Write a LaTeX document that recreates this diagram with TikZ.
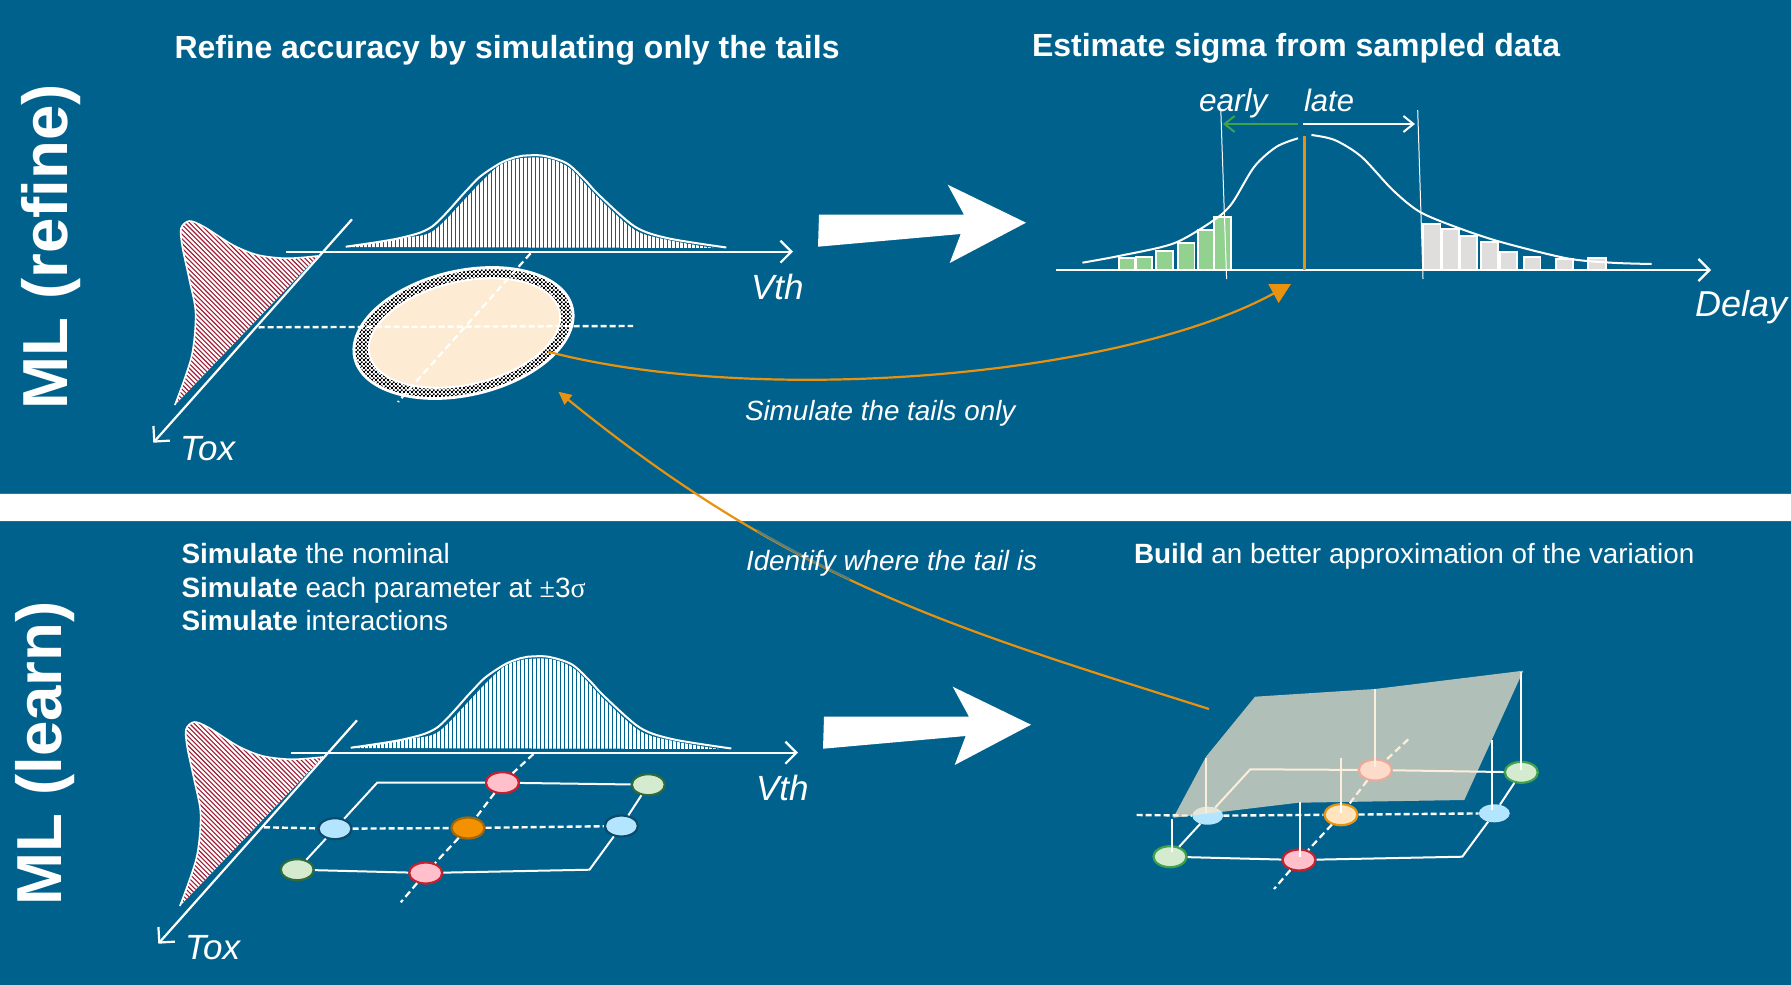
\documentclass[tikz,border=0pt]{standalone}
\usepackage{fontspec}
\setmainfont{Liberation Sans}
\newfontfamily\symf{Liberation Serif}
\usetikzlibrary{arrows.meta,shapes.geometric,patterns}
\pgfdeclarepatternformonly{ringdots}{\pgfqpoint{0pt}{0pt}}{\pgfqpoint{4.4pt}{4.4pt}}{\pgfqpoint{4.4pt}{4.4pt}}{%
  \pgfpathrectangle{\pgfqpoint{0pt}{0pt}}{\pgfqpoint{2pt}{2pt}}%
  \pgfpathrectangle{\pgfqpoint{2.2pt}{2.2pt}}{\pgfqpoint{2pt}{2pt}}%
  \pgfusepath{fill}}
\definecolor{bgblue}{HTML}{00628C}
\definecolor{orng}{HTML}{E8920F}
\definecolor{dimorng}{HTML}{5F7F74}
\definecolor{hatchred}{HTML}{A01C34}
\definecolor{cream}{HTML}{FDEBD3}
\definecolor{surf}{RGB}{251,231,203}
\definecolor{barg}{HTML}{93D191}
\definecolor{bargrey}{HTML}{E0DEDC}
\definecolor{gfill}{HTML}{D5EBD0}
\definecolor{bfill}{HTML}{B3E5FF}
\definecolor{pfill}{HTML}{FFC0CB}
\definecolor{ofill}{HTML}{F49100}
\definecolor{lofill}{HTML}{FFE4BE}
\definecolor{gbright}{HTML}{3FA14A}
\definecolor{gdark}{HTML}{2F6B3A}
\definecolor{bdark}{HTML}{0B4A68}
\definecolor{rdark}{HTML}{C4202E}
\definecolor{bandgreen}{HTML}{1E8A5A}
\definecolor{bandred}{HTML}{C0303A}
\newcommand{\fs}[1]{\fontsize{#1}{#1}\selectfont}
\tikzset{
  txt/.style={inner sep=0pt,outer sep=0pt,anchor=base west,text=white},
  axisline/.style={draw=white,line width=2.2pt,-{Straight Barb[length=11pt,width=22pt,line width=2.2pt]}},
  thinline/.style={draw=white,line width=1pt},
  gridline/.style={draw=white,line width=2pt},
  dashline/.style={draw=white,line width=2.4pt,dash pattern=on 6pt off 3pt},
  dashdiag/.style={draw=white,line width=2.2pt,dash pattern=on 7pt off 4pt},
  pt/.style={ellipse,inner sep=0pt,minimum width=33pt,minimum height=21pt,line width=2.2pt},
  ptbare/.style={ellipse,inner sep=0pt,minimum width=31pt,minimum height=18pt,fill=bfill,draw=none},
  ptg/.style={pt,fill=gfill,draw=#1},
  ptb/.style={pt,fill=bfill,draw=#1},
  ptp/.style={pt,fill=pfill,draw=#1},
  bigarrow/.style={fill=white,draw=none},
  orngline/.style={draw=orng,line width=2.2pt},
  vline/.style={draw=white,line width=2.2pt},
}
\newcommand{\bellgroup}[2]{%
  \begin{scope}
    \clip plot[smooth] coordinates {(345.7,247) (398.8,238.3) (432,231.7) (465,199) (480,183) (500,165) (520,158.3) (546.7,158.3) (570,168.3) (599,198.3) (635,230) (668,240) (714,248)} -- cycle;
    \foreach \x in {345.5,349.5,...,730} \draw[white,line width=3pt] (\x,150) -- (\x,248.5);
  \end{scope}
  \draw[white,line width=2pt] plot[smooth] coordinates {(345.7,246.7) (398.8,238.3) (431.9,226.7) (465.1,192) (480,176.7) (500,163.3) (515,157.3) (523,155.7) (543,155.7) (566.7,163.3) (585,180) (599,195) (635,226.7) (668.2,238.3) (726.3,247.5)};
  \begin{scope}
    \clip plot[smooth] coordinates {(174.9,405) (191.5,356.7) (195.6,313.3) (189.4,280) (182.3,246.7) (181,228.3) (189.4,221) (203.9,226.7) (232.9,245) (257.8,255) (286.8,258.3) (317.9,256)} -- cycle;
    \fill[white] (150,200) rectangle (340,420);
    \foreach \x in {-120,-115.3,...,340} \draw[hatchred,line width=1.1pt] (\x,200) -- +(230,230);
  \end{scope}
  \draw[white,line width=1.6pt] plot[smooth] coordinates {(174.9,405) (191.5,356.7) (195.6,313.3) (189.4,280) (182.3,246.7) (181,228.3) (189.4,221) (203.9,226.7) (232.9,245) (257.8,255) (286.8,258.3) (317.9,256)};
  \coordinate (#1vthS) at (286,251.7);
  \coordinate (#1vthE) at (793,251.7);
  \coordinate (#1toxS) at (352,219.3);
  \coordinate (#1toxE) at (153.3,442.7);
  \draw[axisline] (#1vthS) -- (#1vthE);
  \draw[axisline] (#1toxS) -- (#1toxE);
  \node[txt] (#1vth) at (751,299) {\fs{35}\itshape Vth};
  \node[txt,yshift=#2] (#1tox) at (180,460) {\fs{35}\itshape Tox};
}
\begin{document}
\begin{tikzpicture}[x=1pt,y=-1pt]
\useasboundingbox (0,0) rectangle (1791,985);
\fill[bgblue] (0,0) rectangle (1791,985);
\fill[white] (0,493.5) rectangle (1791,521);
\draw[draw=bandgreen,line width=1pt] (0,493.5) -- (1791,493.5);
\draw[draw=bandred,line width=1pt] (0,521) -- (1791,521);
\node[txt,rotate=90] (mlr) at (67.5,409) {\fs{63.6}\bfseries ML (refine)};
\node[txt,rotate=90] (mll) at (61,905.3) {\fs{63.6}\bfseries ML (learn)};
\node[txt] (t1) at (174.5,58) {\fs{32}\bfseries Refine accuracy by simulating only the tails};
\node[txt] (t2) at (1032,56.5) {\fs{32}\bfseries Estimate sigma from sampled data};
\bellgroup{u}{0pt}
\node[ellipse,rotate=13,minimum width=226pt,minimum height=127pt,inner sep=0pt,fill=white] (ringw) at (463.5,333) {};
\node[ellipse,rotate=13,minimum width=220pt,minimum height=121pt,inner sep=0pt,pattern=ringdots,pattern color=black] (ring) at (463.5,333) {};
\node[ellipse,rotate=13,minimum width=195pt,minimum height=103pt,inner sep=0pt,fill=cream,draw=white,line width=2pt] (core) at (464.5,333) {};
\coordinate (uhS) at (258.6,327.3);
\coordinate (uhE) at (633,326);
\coordinate (udS) at (530.6,253.3);
\coordinate (udE) at (398,402);
\draw[dashline] (uhS) -- (uhE);
\draw[dashdiag] (udS) -- (udE);
\fill[bigarrow] (819,214.7) -- (964,214.7) -- (947.7,184.7) -- (1026,222.7) -- (949.7,263) -- (960.7,234) -- (818,246.7) -- cycle;
\fill[bigarrow] (824,716.7) -- (969,716.7) -- (952.7,686.7) -- (1031,724.7) -- (954.7,765) -- (965.7,736) -- (823,748.7) -- cycle;
\foreach \a/\b/\t in {1119/1135.1/258.3,1136/1152/257.3,1155.6/1172.6/250.7,1178/1194.5/242.7,1198/1214/230.3,1214/1230.6/217.3}
  \draw[fill=barg,draw=white,line width=1.8pt] (\a,269.5) rectangle (\b,\t);
\foreach \a/\b/\t in {1423/1440.4/223.7,1441.8/1458.8/229.3,1460/1476.6/236.3,1480.6/1497.6/242.3,1500.3/1517.2/252.3,1524/1540.4/256.7,1555.6/1572.6/258.7,1588.2/1605.6/258.3}
  \draw[fill=bargrey,draw=white,line width=1.8pt] (\a,269.5) rectangle (\b,\t);
\coordinate (dS) at (1055.6,270);
\coordinate (dE) at (1711,270);
\draw[axisline] (dS) -- (dE);
\draw[white,line width=2pt] plot[smooth] coordinates {(1082.4,262.7) (1120.4,255.7) (1173.9,243.3) (1214.1,220) (1232,203.3) (1254.3,166.7) (1276.6,146.7) (1298,138.3)};
\draw[white,line width=2pt] plot[smooth] coordinates {(1311.4,135) (1334.6,140) (1361.4,156.7) (1392.7,190) (1419.5,211.7) (1455,226.7) (1499.8,241.7) (1566.8,258.3) (1611.4,262.7) (1651.6,264)};
\coordinate (oT) at (1304.3,135.7);
\coordinate (oB) at (1304.3,270);
\draw[orngline,line width=3pt] (oT) -- (oB);
\coordinate (l1T) at (1220.8,110);
\coordinate (l1B) at (1226.6,279);
\coordinate (l2T) at (1417.7,110);
\coordinate (l2B) at (1423,279);
\draw[thinline] (l1T) -- (l1B);
\draw[thinline] (l2T) -- (l2B);
\coordinate (eS) at (1298,124);
\coordinate (eE) at (1223,124);
\coordinate (lS) at (1303.4,124);
\coordinate (lE) at (1415,124);
\draw[draw=gbright,line width=2pt,-{Straight Barb[length=10pt,width=16pt,line width=2pt]}] (eS) -- (eE);
\draw[draw=white,line width=2pt,-{Straight Barb[length=10pt,width=16pt,line width=2pt]}] (lS) -- (lE);
\node[txt] (early) at (1199,111.5) {\fs{31.6}\itshape early};
\node[txt] (late) at (1304,111.5) {\fs{31}\itshape late};
\node[txt] (delay) at (1695,316) {\fs{36}\itshape Delay};
\node[txt] (simt) at (745,420.5) {\fs{27.8}\itshape Simulate the tails only};
\coordinate (o1S) at (548,351.7);
\coordinate (o1E) at (1291,284);
\draw[orngline,-{Triangle[length=20pt,width=21pt]}] (o1S) .. controls (760,407) and (1121,377) .. (o1E);
\node[txt] (s1) at (181.5,563) {\fs{27.9}\textbf{Simulate} the nominal};
\node[txt] (s2) at (181.5,597) {\fs{27.9}\textbf{Simulate} each parameter at {\symf ±}3{\symf σ}};
\node[txt] (s3) at (181.5,630) {\fs{27.9}\textbf{Simulate} interactions};
\node[txt] (b1) at (1134,563) {\fs{27.85}\textbf{Build} an better approximation of the variation};
\begin{scope}[shift={(5,501)}]
\bellgroup{l}{2pt}
\end{scope}
\node[ptp=rdark] (p1) at (502.4,782.7) {};
\node[ptg=gdark] (g1) at (648.3,784.7) {};
\node[ptb=bdark] (b2) at (335,828.7) {};
\node[pt,fill=ofill,draw=orng!70!black] (c) at (468,828) {};
\node[ptb=bdark] (b3) at (621.4,826) {};
\node[ptg=gdark] (g2) at (297.2,869.7) {};
\node[ptp=rdark] (p2) at (425.7,873) {};
\coordinate (lTL) at (377.2,782.7);
\coordinate (lBR) at (589.5,869.7);
\coordinate (lhS) at (264,827.3);
\coordinate (ldS) at (533.5,754);
\coordinate (ldE) at (400.8,902.3);
\draw[gridline] (g2) -- (b2);
\draw[gridline] (b2) -- (lTL) -- (p1);
\draw[gridline] (p1) -- (g1);
\draw[gridline] (g1) -- (b3);
\draw[gridline] (b3) -- (lBR) -- (p2);
\draw[gridline] (p2) -- (g2);
\draw[dashline] (lhS) -- (b2);
\draw[dashline] (b2) -- (c);
\draw[dashline] (c) -- (b3);
\draw[dashdiag] (ldS) -- (p1);
\draw[dashdiag] (p1) -- (c);
\draw[dashdiag] (c) -- (p2);
\draw[dashdiag] (p2) -- (ldE);
\node[ptp=rdark] (rp1) at (1375.3,770) {};
\node[ptg=gbright] (rg1) at (1521.3,772.3) {};
\node[ptbare] (rb1) at (1207.7,815.7) {};
\node[pt,fill=lofill,draw=orng] (ro) at (1341,814.7) {};
\node[ptbare] (rb2) at (1494.3,813.3) {};
\node[ptg=gbright] (rg2) at (1170,856.7) {};
\node[ptp=rdark] (rp2) at (1299,860) {};
\coordinate (rTL) at (1250.3,769.3);
\coordinate (rBR) at (1462.3,856.7);
\coordinate (rhS) at (1136.7,815);
\coordinate (rdS) at (1408.3,739.3);
\coordinate (rdE) at (1274,889);
\draw[gridline] (rg2) -- (rb1);
\draw[gridline] (rb1) -- (rTL) -- (rp1);
\draw[gridline] (rp1) -- (rg1);
\draw[gridline] (rg1) -- (rb2);
\draw[gridline] (rb2) -- (rBR) -- (rp2);
\draw[gridline] (rp2) -- (rg2);
\draw[dashline] (rhS) -- (rb1);
\draw[dashline] (rb1) -- (ro);
\draw[dashline] (ro) -- (rb2);
\draw[dashdiag] (rdS) -- (rp1);
\draw[dashdiag] (rp1) -- (ro);
\draw[dashdiag] (ro) -- (rp2);
\draw[dashdiag] (rp2) -- (rdE);
\coordinate (v1a) at (1206,758); \coordinate (v1b) at (1206,813);
\coordinate (v2a) at (1171.7,819); \coordinate (v2b) at (1171.7,851.7);
\coordinate (v3a) at (1300,801.7); \coordinate (v3b) at (1300,856.7);
\coordinate (v4a) at (1340.7,758); \coordinate (v4b) at (1340.7,813);
\coordinate (v5a) at (1375,689.3); \coordinate (v5b) at (1375,766.7);
\coordinate (v6a) at (1492,740); \coordinate (v6b) at (1492,810);
\coordinate (v7a) at (1521,671.7); \coordinate (v7b) at (1521,770);
\foreach \n in {1,...,7} \draw[vline] (v\n a) -- (v\n b);
\fill[surf,opacity=.7] (1255,696.7) -- (1375,689) -- (1523.3,670.7) -- (1464.3,800) -- (1298.3,802.7) -- (1173.3,817.7) -- (1206,756.7) -- cycle;
\coordinate (o2S) at (1209,709);
\coordinate (o2E) at (558.4,391.7);
\draw[orngline,-{Triangle[length=13pt,width=12pt]}] (o2S) .. controls (950,627) and (790,580) .. (o2E);
\begin{scope}
  \clip (757,525) rectangle (850,600);
  \draw[draw=dimorng,line width=2.4pt] (o2S) .. controls (950,627) and (790,580) .. (o2E);
\end{scope}
\node[txt] (ident) at (746,570) {\fs{27.85}\itshape Identify where the tail is};
\end{tikzpicture}
\end{document}
